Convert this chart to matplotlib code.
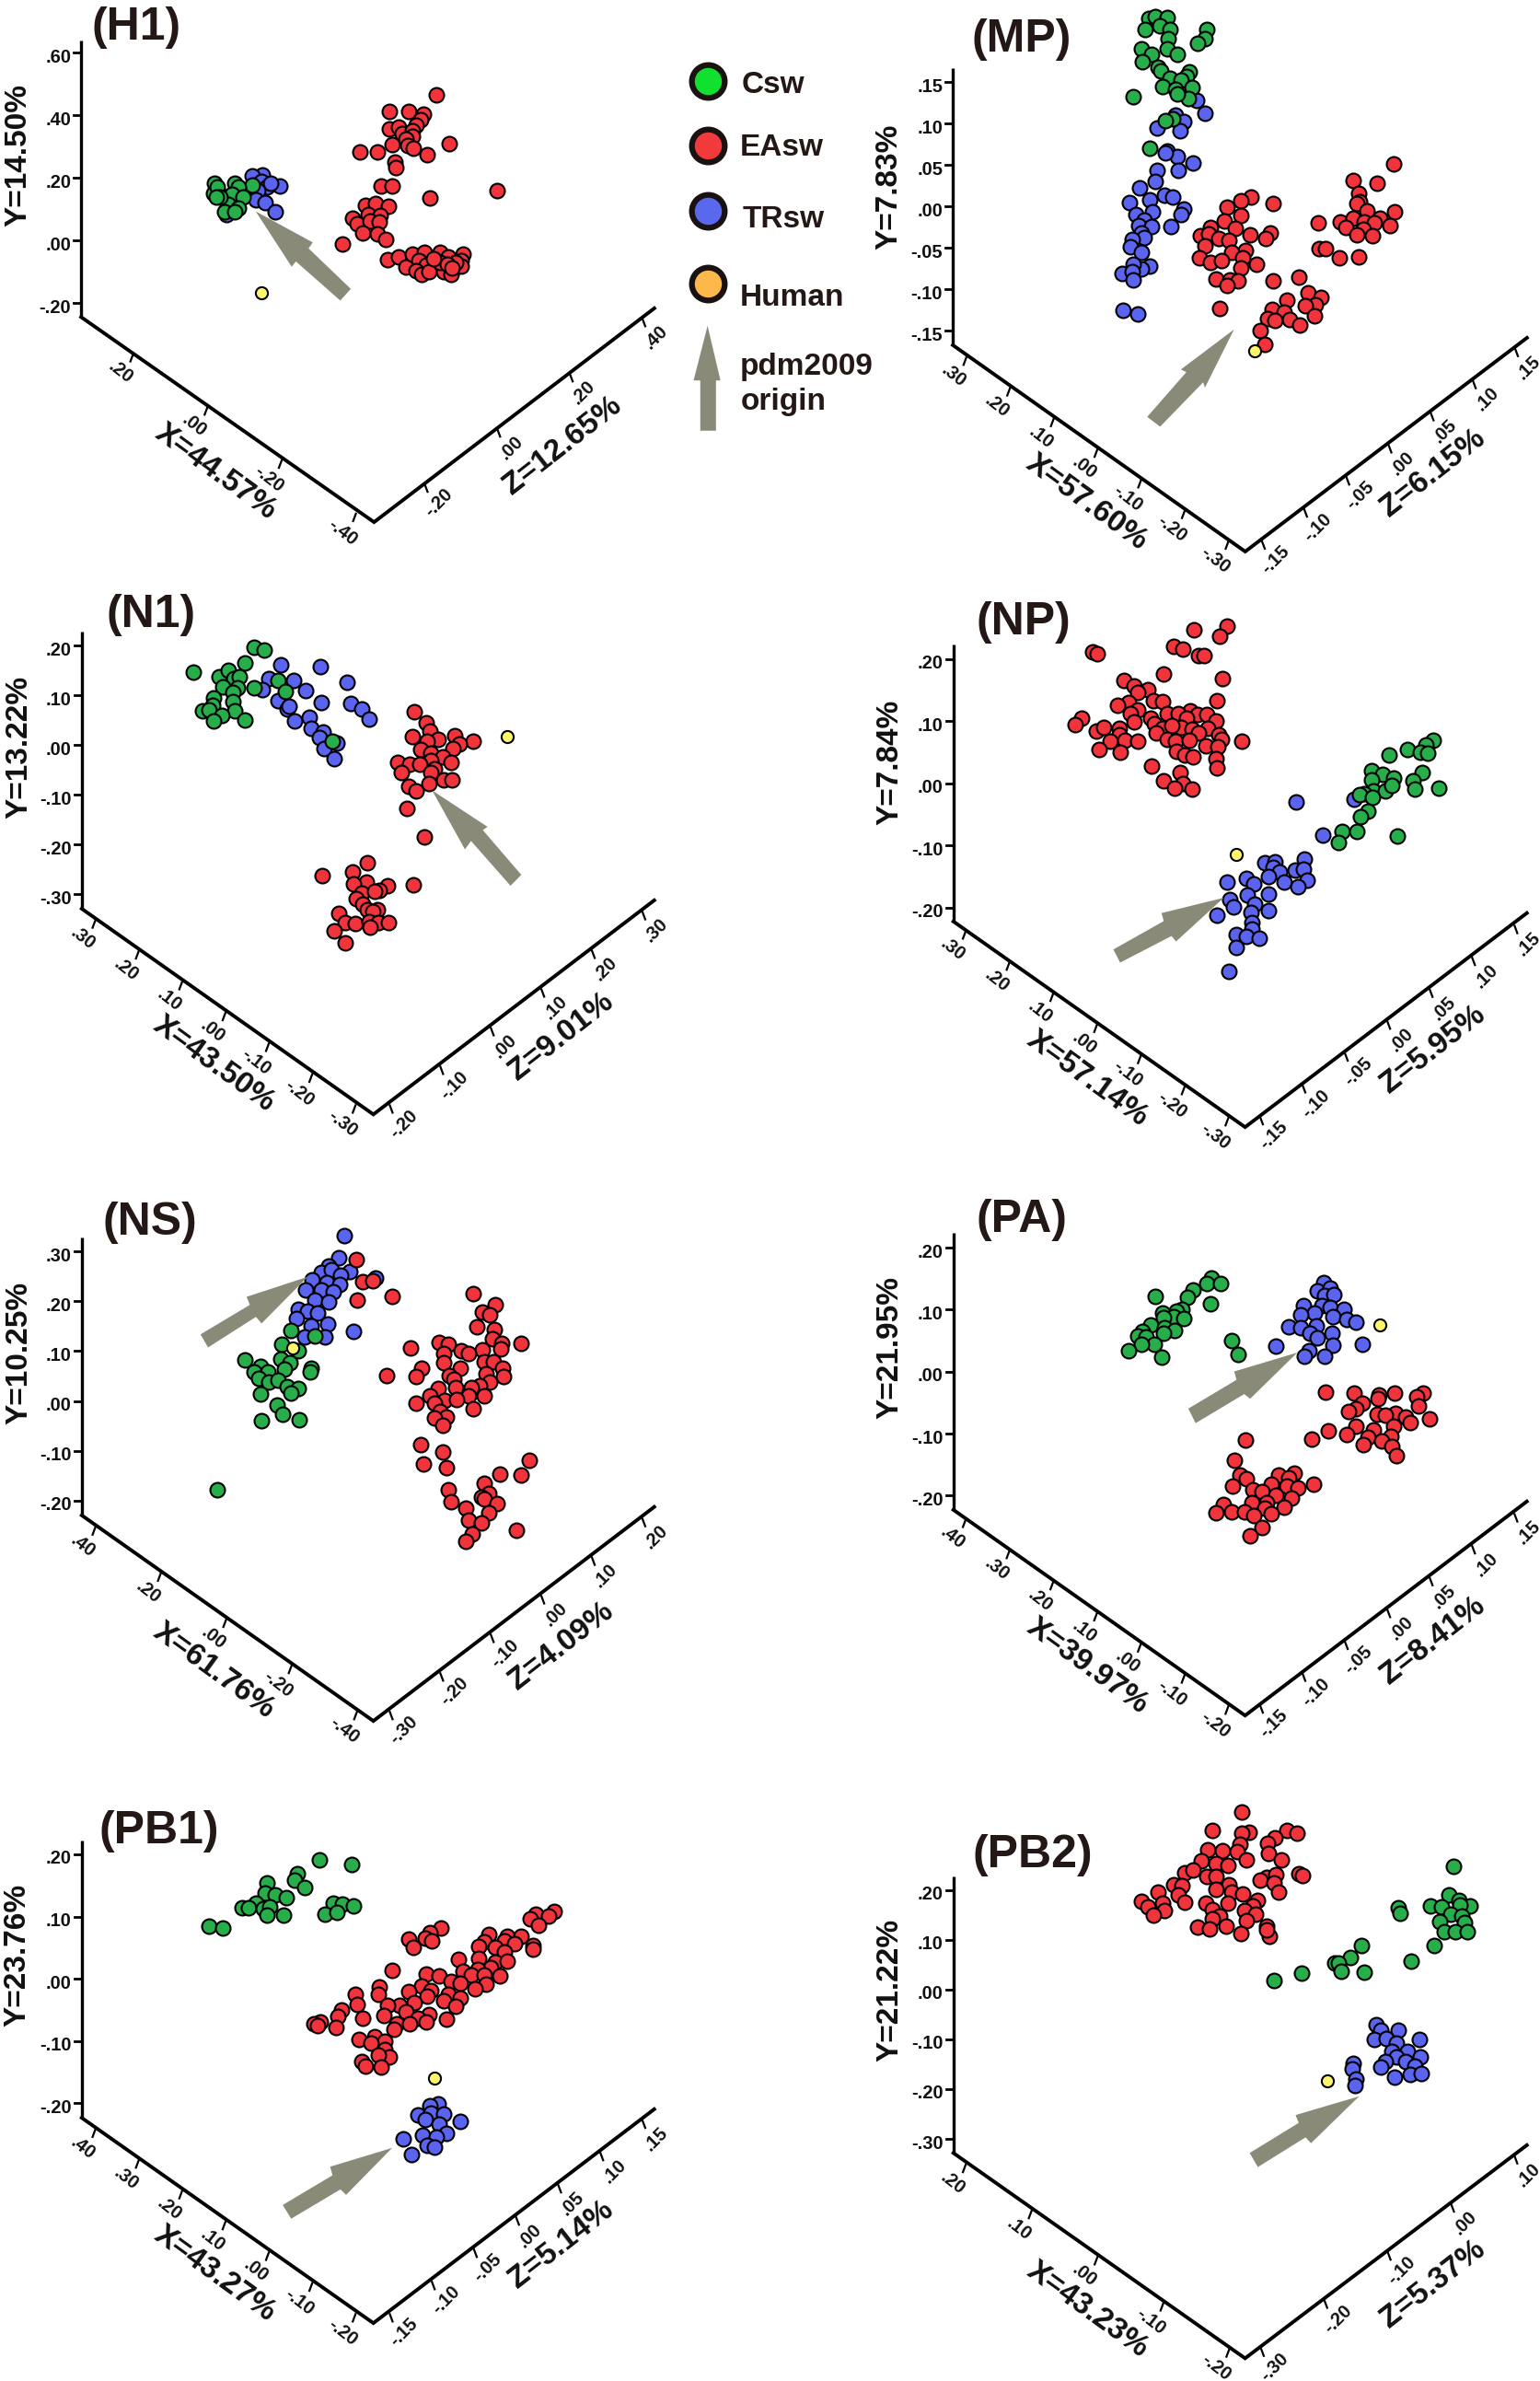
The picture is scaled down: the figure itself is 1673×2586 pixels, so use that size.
#!/usr/bin/python3
import numpy as np
import matplotlib
matplotlib.use('Agg')
import matplotlib.pyplot as plt
from matplotlib.patches import Polygon

plt.rcParams['font.family'] = ['Liberation Sans', 'DejaVu Sans']
plt.rcParams['font.weight'] = 'bold'

W, H = 1674, 2586
RED = '#F1333C'
GREEN = '#27AE4B'
BLUE = '#5A64EF'
YELLOW = '#FFF56B'
ARROW = '#8A8A78'
INK = '#231815'

H1_EA = [(1032,268),(922,315),(967,315),(1002,325),(995,340),(985,355),(922,367),(942,360),(952,378),(975,372),(975,388),(960,395),(928,410),(965,413),(978,422),(1063,408),(852,430),(893,430),(1010,440),(935,460),(937,476),(902,527),(927,528),(1176,542),(1018,563),
         (865,583),(888,578),(918,585),(872,608),(900,612),(835,620),(845,635),(875,628),(898,630),(857,660),(892,663),(913,680),(811,693),
         (917,738),(942,730),(960,757),(975,722),(1005,715),(990,740),(1008,752),(985,768),(998,780),(1015,770),(1040,717),(1060,730),(1055,755),(1050,770),(1068,780),(1095,722),(1090,740),(1092,755),(1040,745),(1078,745),(1058,750),(1025,735),(1070,760)]
H1_TR = [(620,497),(597,500),(618,515),(661,529),(632,530),(640,520),(610,540),(605,568),(627,576),(652,600),(535,608),(516,545)]
H1_CS = [(507,520),(505,548),(515,530),(555,520),(597,526),(563,530),(548,552),(576,560),(540,580),(565,590),(532,600),(555,600),(520,560),(512,558)]
H1_HU = [(618,830)]

MP_EA = [(1050,542),(1032,552),(1090,560),(1008,568),(1033,593),(1002,608),(978,625),(1022,628),(1085,640),(960,647),(975,643),(1048,645),(992,655),(1011,660),(1076,655),(968,675),(1040,688),(1015,692),(958,708),(1035,708),(978,720),(998,715),(1060,727),(1032,735),(988,767),(1012,770),(1028,772),(1008,785),(1135,760),(1089,772),(994,847),
         (1152,805),(1176,818),(1115,825),(1165,838),(1088,850),(1110,857),(1148,840),(1163,868),(1120,878),(1080,875),(1093,880),(1138,892),(1067,907),(1075,945),
         (1305,451),(1232,496),(1275,504),(1243,530),(1245,555),(1240,558),(1258,578),(1307,582),(1170,612),(1210,610),(1232,600),(1280,600),(1253,610),(1270,612),(1220,625),(1250,630),(1298,620),(1240,645),(1268,648),(1172,682),(1183,682),(1208,707),(1243,705)]
MP_TR = [(953,275),(968,310),(915,315),(930,333),(883,352),(923,360),(900,415),(918,430),(897,420),(947,447),(920,467),(883,468),(880,498),(851,515),(895,537),(910,542),(834,557),(870,550),(930,575),(926,590),(875,582),(845,590),(860,605),(908,622),(850,620),(873,622),(855,640),(860,652),(838,658),(835,678),(855,693),(870,730),(855,738),(840,725),(820,750),(838,745),(840,768),(822,853),(848,862)]
MP_CS = [(868,50),(880,45),(900,47),(862,80),(888,72),(905,80),(972,80),(903,105),(968,105),(955,118),(900,135),(855,135),(918,150),(872,150),(857,170),(885,185),(890,195),(940,198),(935,210),(905,215),(925,220),(893,238),(915,245),(945,240),(938,270),(918,258),(840,265),(910,325),(897,332),(870,408)]
MP_HU = [(1057,963)]

N1_EA = [(882,388),(908,418),(915,440),(878,455),(932,463),(910,467),(968,452),(1008,468),(978,476),(895,490),(918,500),(965,487),(942,510),(918,520),(960,527),(847,527),(873,532),(893,530),(925,545),(855,553),(918,555),(945,575),(963,573),(913,583),(870,592),(885,605),(867,653),(904,731),
         (783,802),(686,838),(750,828),(780,855),(753,860),(825,865),(880,862),(770,885),(808,878),(798,880),(758,900),(772,915),(782,930),(803,930),(793,937),(722,940),(735,965),(757,968),(785,963),(805,965),(827,967),(788,978),(711,990),(735,1022)]
N1_TR = [(597,257),(682,264),(739,305),(573,297),(626,300),(559,327),(650,330),(591,357),(685,362),(746,365),(770,380),(612,380),(615,372),(785,407),(658,403),(627,412),(663,433),(688,442),(680,458),(718,472),(690,488),(712,515)]
N1_CS = [(412,278),(541,210),(562,218),(522,252),(466,290),(486,272),(498,295),(510,290),(474,318),(505,322),(540,322),(592,302),(608,332),(495,335),(455,350),(495,360),(453,368),(432,384),(445,382),(500,385),(473,398),(455,413),(521,409),(707,467)]
N1_HU = [(1080,455)]

NP_EA = [(878,152),(805,162),(860,180),(760,208),(780,214),(582,222),(592,228),(815,232),(826,232),(738,282),(867,297),(651,300),(672,315),(702,327),(680,333),(855,357),(716,357),(735,358),(660,362),(636,370),(680,382),(745,392),(665,392),(557,405),(797,385),(770,392),(812,395),(832,395),(788,405),(852,412),(672,415),(710,405),(542,423),(718,420),(590,440),(606,430),(640,432),(735,432),(775,430),(800,435),(835,432),(755,425),(722,445),(640,450),(858,450),(815,445),(745,462),(865,462),(620,467),(652,465),(680,467),(763,467),(795,465),(910,467),(830,480),(857,483),(595,491),(643,497),(766,495),(785,505),(803,510),(853,515),(712,535),(855,540),(773,553),(738,576),(780,585),(762,598),(800,600)]
NP_TR = [(1157,628),(1030,635),(1088,725),(1047,791),(960,802),(983,800),(978,815),(992,828),(1027,823),(1045,820),(968,840),(920,845),(935,860),(1053,850),(1002,855),(1034,868),(878,855),(968,888),(922,890),(884,902),(892,922),(938,915),(968,934),(930,938),(854,945),(932,965),(932,985),(898,998),(920,1003),(949,1008),(897,1035),(882,1101)]
NP_CS = [(1330,465),(1315,478),(1275,490),(1302,497),(1318,500),(1234,507),(1195,550),(1307,555),(1220,560),(1243,570),(1195,573),(1287,577),(1343,596),(1290,600),(1200,605),(1225,605),(1240,590),(1180,612),(1168,615),(1198,622),(1188,660),(1170,675),(1130,715),(1163,716),(1122,745),(1251,729)]
NP_HU = [(897,778)]

NS_EA = [(759,222),(772,283),(793,280),(835,324),(761,333),(1007,315),(1054,347),(1028,367),(1042,375),(1015,407),(1052,415),(1048,440),(935,450),(955,455),(1069,452),(1109,453),(875,465),(1067,467),(982,472),(1028,470),(997,480),(945,480),(945,505),(1030,503),(1050,503),(897,520),(980,520),(1070,520),(1035,535),(1073,543),(885,543),(824,540),(957,540),(967,552),(1043,560),(1022,570),(970,575),(1003,573),(932,577),(915,598),(998,597),(1030,597),(885,617),(947,610),(972,608),(925,617),(1008,632),(937,640),(950,655),(925,658),(943,677),(896,732),(943,750),(1127,775),(902,783),(951,793),(1065,812),(1110,814),(1030,838),(955,855),(1040,865),(1025,875),(1030,880),(960,887),(1058,892),(992,905),(1040,918),(997,938),(1025,945),(1100,965),(1005,975),(992,997)]
NS_TR = [(734,156),(722,217),(700,240),(745,255),(685,258),(705,250),(725,265),(665,278),(800,272),(695,285),(723,292),(650,305),(685,305),(710,310),(670,333),(700,338),(635,358),(655,365),(677,368),(632,385),(698,400),(663,405),(753,420),(648,435),(692,435)]
NS_CS = [(620,418),(670,433),(600,455),(635,472),(522,497),(597,495),(618,505),(605,523),(555,517),(540,530),(662,522),(660,530),(570,530),(550,548),(573,560),(592,555),(612,572),(635,577),(555,592),(620,590),(590,622),(602,648),(557,666),(637,662),(463,856)]
NS_HU = [(623,465)]

PA_EA = [(1093,586),(1157,590),(1212,595),(1245,588),(1308,588),(1295,600),(1210,605),(1175,617),(1298,625),(1160,632),(1145,640),(1207,647),(1248,645),(1270,655),(1225,650),(1322,660),(1160,680),(1243,680),(1280,670),(1200,690),(1140,703),(1100,693),(1063,715),(1187,710),(1238,707),(1218,720),(1178,732),(1240,737),(1249,762),
         (918,719),(893,773),(1025,810),(905,815),(990,815),(920,825),(1012,822),(1067,840),(890,845),(975,840),(1008,845),(1033,850),(933,855),(955,860),(985,870),(1018,878),(870,895),(932,890),(965,890),(1003,903),(852,918),(887,915),(915,915),(960,905),(935,925),(975,920),(955,958),(927,980)]
PA_TR = [(1090,287),(1075,308),(1105,302),(1092,320),(1113,318),(1045,350),(1085,350),(1070,370),(1105,355),(1135,360),(1040,375),(1110,380),(1140,388),(1160,395),(1013,407),(1040,410),(1073,405),(1060,425),(1108,425),(1075,437),(985,460),(1175,455),(1110,458),(1058,472),(1048,488),(1092,487)]
PA_CS = [(842,272),(832,288),(863,288),(803,307),(790,325),(720,324),(841,343),(777,360),(765,365),(735,368),(760,380),(782,385),(738,382),(710,402),(740,410),(762,418),(690,420),(680,432),(698,435),(738,425),(718,455),(688,455),(661,473),(887,445),(901,484),(734,491)]
PA_HU = [(1213,403)]

PB1_EA = [(1180,367),(1140,375),(1168,378),(1128,387),(1146,402),(938,410),(915,422),(905,435),(920,442),(870,437),(880,460),(1040,427),(1080,430),(1110,430),(1135,455),(1075,442),(1030,445),(1055,460),(1020,457),(1095,450),(1135,463),(1075,470),(977,490),(1020,487),(1055,497),(1080,495),(1045,510),(985,520),(1018,515),(835,517),(908,527),(935,532),(1065,533),(1003,530),(1030,530),(960,547),(980,552),(1035,553),(808,560),(897,557),(1012,565),(870,573),(918,570),(757,578),(805,580),(955,578),(980,588),(760,605),(910,585),(945,595),(882,600),(850,607),(825,607),(970,610),(727,620),(773,640),(818,633),(865,625),(913,632),(890,640),(950,642),(720,635),(682,650),(668,655),(677,660),(716,665),(845,655),(907,650),(872,655),(838,668),(765,695),(798,688),(820,700),(790,705),(820,720),(830,740),(805,735),(770,752),(778,762),(812,765)]
PB1_TR = [(932,860),(915,865),(890,888),(918,882),(945,885),(980,905),(905,900),(935,910),(900,940),(950,935),(858,948),(930,945),(910,965),(925,970),(876,988)]
PB1_CS = [(680,236),(749,248),(634,270),(628,288),(648,307),(569,295),(565,320),(587,325),(610,332),(545,345),(710,345),(730,348),(752,352),(515,358),(530,357),(560,360),(575,355),(568,376),(604,377),(692,375),(718,370),(445,406),(475,410)]
PB1_HU = [(925,794)]

PB2_EA = [(909,112),(845,160),(1008,160),(1032,168),(925,165),(910,168),(982,180),(967,192),(905,195),(835,210),(868,212),(900,215),(968,220),(820,238),(852,245),(920,235),(880,250),(997,236),(785,268),(802,262),(1035,270),(1043,275),(833,277),(852,278),(965,280),(985,272),(950,287),(980,295),(760,300),(778,302),(882,298),(853,310),(990,318),(725,317),(888,318),(770,325),(912,322),(688,342),(785,343),(830,345),(880,345),(945,338),(735,347),(703,355),(933,352),(845,362),(740,365),(715,377),(915,365),(860,378),(940,375),(845,385),(920,390),(812,408),(838,412),(875,405),(965,405),(908,423),(970,432),(965,415)]
PB2_TR = [(1205,658),(1215,670),(1253,670),(1202,695),(1228,692),(1300,695),(1250,705),(1275,725),(1240,725),(1303,740),(1250,740),(1155,755),(1152,770),(1225,750),(1270,750),(1215,765),(1290,762),(1160,795),(1245,790),(1280,785),(1305,782),(1158,812)]
PB2_CS = [(1375,252),(1365,325),(1253,358),(1258,372),(1325,354),(1388,340),(1412,352),(1350,355),(1390,350),(1370,375),(1393,380),(1345,393),(1400,395),(1355,420),(1380,420),(1405,420),(1332,455),(1172,455),(1148,486),(1283,495),(1115,500),(1122,500),(1128,520),(1180,522),(1042,525),(981,545)]
PB2_HU = [(1097,801)]

LEGEND_NAMES = ['Csw', 'EAsw', 'TRsw', 'Human']
LEGEND_COLORS = ['#12E02E', '#F23A3C', '#5A68EE', '#FDB84C']

YTICKS_H1 = ['.60', '.40', '.20', '.00', '-.20']
YTICKS_MP = ['.15', '.10', '.05', '.00', '-.05', '-.10', '-.15']
YTICKS_N1 = ['.20', '.10', '.00', '-.10', '-.20', '-.30']
YTICKS_NP = ['.20', '.10', '.00', '-.10', '-.20']
YTICKS_NS = ['.30', '.20', '.10', '.00', '-.10', '-.20']
YTICKS_PB2 = ['.20', '.10', '.00', '-.10', '-.20', '-.30']

XTICKS_H1 = ['.20', '.00', '-.20', '-.40']
XTICKS_30 = ['.30', '.20', '.10', '.00', '-.10', '-.20', '-.30']
XTICKS_NS = ['.40', '.20', '.00', '-.20', '-.40']
XTICKS_PA = ['.40', '.30', '.20', '.10', '.00', '-.10', '-.20']
XTICKS_PB2 = ['.20', '.10', '.00', '-.10', '-.20']

ZTICKS_H1 = ['-.20', '.00', '.20', '.40']
ZTICKS_15 = ['-.15', '-.10', '-.05', '.00', '.05', '.10', '.15']
ZTICKS_N1 = ['-.20', '-.10', '.00', '.10', '.20', '.30']
ZTICKS_NS = ['-.30', '-.20', '-.10', '.00', '.10', '.20']
ZTICKS_PB2 = ['-.30', '-.20', '-.10', '.00', '.10']

# crop: region of the figure in pixels. each panel grid runs 0..1568 both ways
panels = [
    dict(crop=(0,0,720,600), title='(H1)', tpos=(322,65),
         series=[(H1_EA,RED),(H1_TR,BLUE),(H1_CS,GREEN),(H1_HU,YELLOW)],
         xlab='X=44.57%', xpos=(510,1340), ylab='Y=14.50%', ypos=(35,440), zlab='Z=12.65%', zpos=(1330,1265),
         yaxis=(192,115,900), yt=(YTICKS_H1,150,860), corner=(885,1482), zend=(1548,875),
         xt=(XTICKS_H1,(315,1005),(842,1458)), zt=(ZTICKS_H1,(1005,1375),(1520,905)),
         arrow=[(605,600),(740,688),(730,705),(830,820),(805,853),(700,742),(690,757)]),
    dict(crop=(720,0,954,620), title='(MP)', tpos=(640,95),
         series=[(MP_TR,BLUE),(MP_CS,GREEN),(MP_EA,RED),(MP_HU,YELLOW)],
         xlab='X=57.60%', xpos=(757,1380), ylab='Y=7.83%', ypos=(398,512), zlab='Z=6.15%', zpos=(1375,1300),
         yaxis=(518,188,948), yt=(YTICKS_MP,226,909), corner=(1040,1515), zend=(1543,928),
         xt=(XTICKS_30,(542,982),(1010,1487)), zt=(ZTICKS_15,(1070,1487),(1522,958)),
         arrow=[(1020,905),(925,1015),(935,1022),(865,1145),(888,1172),(965,1050),(968,1065)]),
    dict(crop=(0,620,800,620), title='(N1)', tpos=(322,108),
         series=[(N1_TR,BLUE),(N1_CS,GREEN),(N1_EA,RED),(N1_HU,YELLOW)],
         xlab='X=43.50%', xpos=(455,1355), ylab='Y=13.22%', ypos=(33,485), zlab='Z=9.01%', zpos=(1195,1280),
         yaxis=(174,168,928), yt=(YTICKS_N1,205,888), corner=(795,1493), zend=(1393,905),
         xt=(XTICKS_30,(203,960),(757,1468)), zt=(ZTICKS_N1,(830,1468),(1368,937)),
         arrow=[(920,603),(1038,703),(1028,712),(1110,835),(1087,865),(1003,742),(990,765)]),
    dict(crop=(900,620,774,620), title='(NP)', tpos=(430,128),
         series=[(NP_EA,RED),(NP_TR,BLUE),(NP_CS,GREEN),(NP_HU,YELLOW)],
         xlab='X=57.14%', xpos=(570,1395), ylab='Y=7.84%', ypos=(128,525), zlab='Z=5.95%', zpos=(1330,1315),
         yaxis=(275,203,963), yt=(YTICKS_NP,242,925), corner=(917,1528), zend=(1537,940),
         xt=(XTICKS_30,(302,990),(880,1503)), zt=(ZTICKS_15,(950,1500),(1510,975)),
         arrow=[(870,898),(733,940),(738,962),(627,1040),(642,1076),(755,1003),(765,1018)]),
    dict(crop=(0,1280,800,620), title='(NS)', tpos=(320,110),
         series=[(NS_TR,BLUE),(NS_CS,GREEN),(NS_HU,YELLOW),(NS_EA,RED)],
         xlab='X=61.76%', xpos=(455,1352), ylab='Y=10.25%', ypos=(33,480), zlab='Z=4.09%', zpos=(1195,1285),
         yaxis=(174,163,925), yt=(YTICKS_NS,200,885), corner=(795,1490), zend=(1393,902),
         xt=(XTICKS_NS,(203,958),(760,1465)), zt=(ZTICKS_NS,(830,1465),(1368,935)),
         arrow=[(655,270),(525,325),(532,347),(427,428),(443,464),(545,380),(557,398)]),
    dict(crop=(900,1280,774,620), title='(PA)', tpos=(425,100),
         series=[(PA_CS,GREEN),(PA_TR,BLUE),(PA_EA,RED),(PA_HU,YELLOW)],
         xlab='X=39.97%', xpos=(570,1340), ylab='Y=21.95%', ypos=(128,465), zlab='Z=8.41%', zpos=(1330,1270),
         yaxis=(275,150,910), yt=(YTICKS_NP,190,871), corner=(917,1475), zend=(1537,887),
         xt=(XTICKS_PA,(302,937),(880,1450)), zt=(ZTICKS_15,(950,1447),(1510,922)),
         arrow=[(1032,478),(893,530),(898,553),(792,632),(808,672),(915,592),(928,605)]),
    dict(crop=(0,1920,800,666), title='(PB1)', tpos=(338,150),
         series=[(PB1_CS,GREEN),(PB1_EA,RED),(PB1_TR,BLUE),(PB1_HU,YELLOW)],
         xlab='X=43.27%', xpos=(458,1295), ylab='Y=23.76%', ypos=(30,480), zlab='Z=5.14%', zpos=(1195,1220),
         yaxis=(174,185,895), yt=(YTICKS_NP,221,858), corner=(795,1420), zend=(1393,873),
         xt=(XTICKS_PA,(203,925),(757,1397)), zt=(ZTICKS_15,(830,1397),(1368,902)),
         arrow=[(835,972),(703,1020),(708,1042),(602,1118),(620,1153),(725,1078),(737,1092)]),
    dict(crop=(900,1920,774,666), title='(PB2)', tpos=(450,212),
         series=[(PB2_EA,RED),(PB2_CS,GREEN),(PB2_TR,BLUE),(PB2_HU,YELLOW)],
         xlab='X=43.23%', xpos=(570,1385), ylab='Y=21.22%', ypos=(128,568), zlab='Z=5.37%', zpos=(1330,1320),
         yaxis=(275,277,985), yt=(YTICKS_PB2,312,949), corner=(917,1510), zend=(1537,965),
         xt=(XTICKS_PB2,(302,1015),(882,1487)), zt=(ZTICKS_PB2,(952,1485),(1510,993)),
         arrow=[(1168,840),(1028,888),(1035,908),(927,985),(945,1021),(1050,945),(1062,960)]),
]

fig = plt.figure(figsize=(W/100, H/100), dpi=100, facecolor='white')


def panel_axes(crop):
    x, y, w, h = crop
    ax = fig.add_axes([x/W, 1-(y+h)/H, w/W, h/H])
    ax.set_xlim(0, 1568)
    ax.set_ylim(1568, 0)
    ax.axis('off')
    return ax


def offset_text(ax, s, pos, dx, dy, **kw):
    ax.annotate(s, pos, xytext=(dx, dy), textcoords='offset pixels', annotation_clip=False, **kw)


def draw_panel(p):
    ax = panel_axes(p['crop'])
    sx = 1568/p['crop'][2]
    sy = 1568/p['crop'][3]

    # box axes
    yx, ytop, ybot = p['yaxis']
    cx, cy = p['corner']
    ax.plot([yx, yx], [ytop, ybot], color='black', lw=2.4, solid_capstyle='butt')
    ax.plot([yx, cx, p['zend'][0]], [ybot, cy, p['zend'][1]], color='black', lw=2.8, solid_joinstyle='miter')

    labels, first, last = p['yt']
    for s, t in zip(labels, np.linspace(first, last, len(labels))):
        ax.plot([yx, yx-8*sx], [t, t], color='black', lw=2)
        offset_text(ax, s, (yx, t), -11, -5, ha='right', va='center', fontsize=14.5, color='#111111')

    labels, first, last = p['xt']
    xs = np.linspace(first[0], last[0], len(labels))
    ys = np.linspace(first[1], last[1], len(labels))
    for s, a, b in zip(labels, xs, ys):
        ax.plot([a, a-3*sx], [b, b+8*sy], color='black', lw=1.6)
        offset_text(ax, s, (a, b), -14, -20, ha='center', va='center', fontsize=14.5, rotation=-38, color='#111111')

    labels, first, last = p['zt']
    xs = np.linspace(first[0], last[0], len(labels))
    ys = np.linspace(first[1], last[1], len(labels))
    for s, a, b in zip(labels, xs, ys):
        ax.plot([a, a+3*sx], [b, b+8*sy], color='black', lw=1.6)
        offset_text(ax, s, (a, b), 15, -20, ha='center', va='center', fontsize=14.5, rotation=45, color='#111111')

    # points
    for n, (pts, col) in enumerate(p['series']):
        px, py = zip(*pts)
        size = 90 if col == YELLOW else 132
        ax.scatter(px, py, s=size, c=col, edgecolors='black', linewidths=1.5, zorder=3+n*0.1, clip_on=False)

    ax.add_patch(Polygon(p['arrow'], closed=True, facecolor=ARROW, edgecolor='none', zorder=5))

    offset_text(ax, p['title'], p['tpos'], 0, -5, ha='center', va='center', fontsize=36, color=INK)
    ax.text(*p['xpos'], p['xlab'], ha='center', va='center', fontsize=24, rotation=-36, color='#111111')
    offset_text(ax, p['ylab'], p['ypos'], 4, 0, ha='center', va='center', fontsize=24, rotation=90, color='#111111')
    ax.text(*p['zpos'], p['zlab'], ha='center', va='center', fontsize=24, rotation=38, color='#111111')
    return ax


axes = [draw_panel(p) for p in panels]

# legend sits in the MP panel grid
ax = axes[1]
leg_y = [222, 399, 579, 780]
leg_txt = [(140,235), (138,405), (142,603), (138,818)]
for name, col, y, t in zip(LEGEND_NAMES, LEGEND_COLORS, leg_y, leg_txt):
    ax.scatter([80], [y], s=660, c=col, edgecolors='#1a1210', linewidths=4.5, clip_on=False, zorder=6)
    ax.text(t[0], t[1], name, ha='left', va='center', fontsize=24, color=INK)
ax.add_patch(Polygon([(80,895),(103,1045),(95,1045),(95,1183),(67,1183),(67,1045),(55,1045)],
                     closed=True, facecolor=ARROW, edgecolor='none', clip_on=False))
ax.text(138, 1008, 'pdm2009', ha='left', va='center', fontsize=24, color=INK)
ax.text(140, 1103, 'origin', ha='left', va='center', fontsize=24, color=INK)

fig.savefig('out.png', dpi=100, facecolor='white')
